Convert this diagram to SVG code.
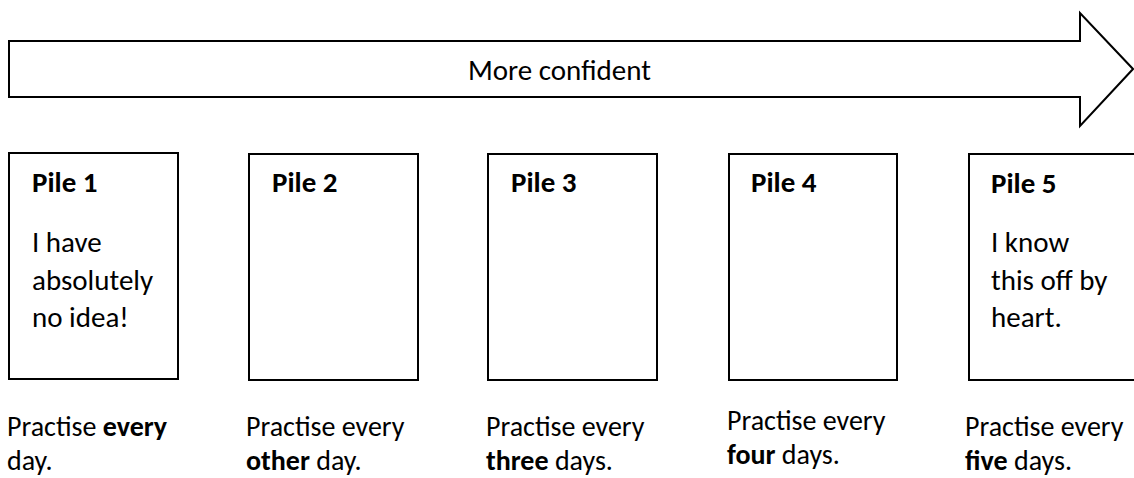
<svg xmlns="http://www.w3.org/2000/svg" width="1134" height="478" viewBox="0 0 1134 478">
<style>
  text { font-family: Carlito, Calibri, Lato, "Liberation Sans", sans-serif; font-size: 29px; fill: #000; }
  .b { font-weight: bold; }
  .lbl { font-size: 28px; }
  .box { fill: #fff; stroke: #000; stroke-width: 2; }
</style>
<rect width="1134" height="478" fill="#fff"/>
<g id="arrow">
  <polygon class="box" points="9,41 1080,41 1080,13 1133,69 1080,126 1080,97 9,97"/>
  <text x="468" y="80">More confident</text>
</g>
<g id="pile1">
  <rect class="box" x="9" y="153" width="169" height="226"/>
  <text class="b" x="32" y="192">Pile 1</text>
  <text x="32" y="252">I have</text>
  <text x="32" y="289.5">absolutely</text>
  <text x="32" y="327">no idea!</text>
  <text class="lbl" x="7" y="436">Practise <tspan class="b">every</tspan></text>
  <text class="lbl" x="7" y="470">day.</text>
</g>
<g id="pile2">
  <rect class="box" x="249" y="154" width="169" height="226"/>
  <text class="b" x="272" y="192">Pile 2</text>
  <text class="lbl" x="246" y="436">Practise every</text>
  <text class="lbl" x="246" y="470"><tspan class="b">other</tspan> day.</text>
</g>
<g id="pile3">
  <rect class="box" x="488" y="154" width="169" height="226"/>
  <text class="b" x="511" y="192">Pile 3</text>
  <text class="lbl" x="486" y="436">Practise every</text>
  <text class="lbl" x="486" y="470"><tspan class="b">three</tspan> days.</text>
</g>
<g id="pile4">
  <rect class="box" x="729" y="154" width="168" height="226"/>
  <text class="b" x="751" y="192">Pile 4</text>
  <text class="lbl" x="727" y="430">Practise every</text>
  <text class="lbl" x="727" y="464"><tspan class="b">four</tspan> days.</text>
</g>
<g id="pile5">
  <rect class="box" x="969" y="154" width="180" height="226"/>
  <text class="b" x="991" y="193">Pile 5</text>
  <text x="991" y="252">I know</text>
  <text x="991" y="289.5">this off by</text>
  <text x="991" y="327">heart.</text>
  <text class="lbl" x="965" y="436">Practise every</text>
  <text class="lbl" x="965" y="470"><tspan class="b">five</tspan> days.</text>
</g>
<g id="connectors"/>
</svg>
